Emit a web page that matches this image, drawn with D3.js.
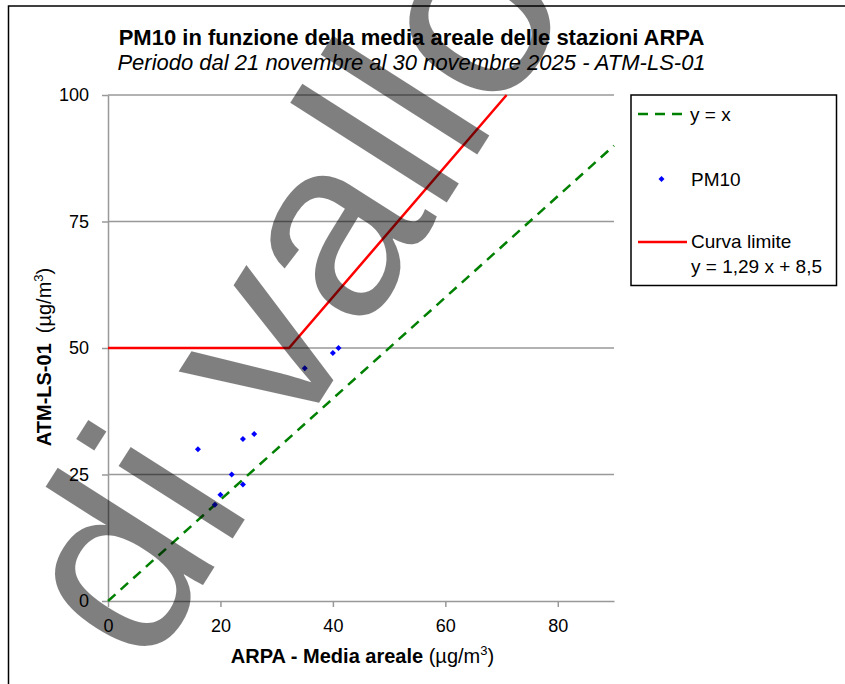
<!DOCTYPE html>
<html>
<head>
<meta charset="utf-8">
<title>PM10 in funzione della media areale</title>
<style>
body { margin: 0; background: #fff; }
text { font-family: 'Liberation Sans', Arial, sans-serif; }
</style>
</head>
<body>
<svg id="chart"></svg>
<script src="https://cdnjs.cloudflare.com/ajax/libs/d3/7.8.5/d3.min.js"></script>
<script>
// values
var xTicks = [0, 20, 40, 60, 80];
var yTicks = [0, 25, 50, 75, 100];
var pm10X = [16, 24, 26, 22, 24, 20, 19, 35, 40, 41];
var pm10Y = [30, 32, 33, 25, 23, 21, 19, 46, 49, 50];
var limitX = [0, 32.2, 70.9];
var limitY = [50, 50, 100];
var identityX = [0, 90];
var identityY = [0, 90];
var legendLabels = ['y = x', 'PM10', 'Curva limite'];
var limitFormula = 'y = 1,29 x + 8,5';

var width = 845, height = 684;
var svg = d3.select('#chart').attr('width', width).attr('height', height);

// outer frame (runs off the right and bottom edge)
svg.append('rect')
  .attr('x', 8.5).attr('y', 6)
  .attr('width', 900).attr('height', 800)
  .attr('fill', 'none').attr('stroke', '#000').attr('stroke-width', 1.5);

var x = d3.scaleLinear().domain([0, 90]).range([108, 614]);
var y = d3.scaleLinear().domain([0, 100]).range([601, 95]);

// gridlines
svg.append('g').selectAll('line')
  .data(yTicks.filter(function(d) { return d > 0; }))
  .enter().append('line')
  .attr('x1', x(0)).attr('x2', x(90))
  .attr('y1', function(d) { return y(d); })
  .attr('y2', function(d) { return y(d); })
  .attr('stroke', '#999').attr('stroke-width', 1.5);

var yAxis = svg.append('g')
  .attr('transform', 'translate(' + x(0) + ',0)')
  .call(d3.axisLeft(y).tickValues(yTicks).tickSize(6).tickSizeOuter(0).tickPadding(13));
var xAxis = svg.append('g')
  .attr('transform', 'translate(0,' + y(0) + ')')
  .call(d3.axisBottom(x).tickValues(xTicks).tickSize(6).tickSizeOuter(0).tickPadding(12));

[xAxis, yAxis].forEach(function(a) {
  a.selectAll('path, line').attr('stroke', '#999').attr('stroke-width', 1.5);
  a.selectAll('text').attr('font-size', 18).attr('fill', '#000')
    .style('font-family', "'Liberation Sans', Arial, sans-serif");
});

// y = x
var identity = identityX.map(function(d, i) { return [d, identityY[i]]; });
var line = d3.line().x(function(d) { return x(d[0]); }).y(function(d) { return y(d[1]); });
svg.append('path')
  .datum(identity)
  .attr('d', line)
  .attr('fill', 'none').attr('stroke', '#008000').attr('stroke-width', 2.5)
  .attr('stroke-dasharray', '10,7');

// limit curve
var limit = limitX.map(function(d, i) { return [d, limitY[i]]; });
svg.append('path')
  .datum(limit)
  .attr('d', line)
  .attr('fill', 'none').attr('stroke', '#ff0000').attr('stroke-width', 2.5)
  .attr('stroke-linejoin', 'miter');

// PM10 points
var diamond = d3.symbol().type(d3.symbolSquare).size(18);
svg.append('g').selectAll('path')
  .data(pm10X)
  .enter().append('path')
  .attr('d', diamond)
  .attr('transform', function(d, i) {
    return 'translate(' + x(d) + ',' + y(pm10Y[i]) + ') rotate(45)';
  })
  .attr('fill', '#0000ff');

// titles
svg.append('text')
  .attr('x', 411.5).attr('y', 45)
  .attr('text-anchor', 'middle')
  .attr('font-size', 22).attr('font-weight', 'bold')
  .text('PM10 in funzione della media areale delle stazioni ARPA');
svg.append('text')
  .attr('x', 411.5).attr('y', 70)
  .attr('text-anchor', 'middle')
  .attr('font-size', 22).attr('font-style', 'italic')
  .text('Periodo dal 21 novembre al 30 novembre 2025 - ATM-LS-01');

// axis titles
var xt = svg.append('text')
  .attr('x', 362.5).attr('y', 663)
  .attr('text-anchor', 'middle')
  .attr('font-size', 20);
xt.append('tspan').attr('font-weight', 'bold').text('ARPA - Media areale ');
xt.append('tspan').text('(\u00b5g/m');
xt.append('tspan').attr('font-size', 13).attr('dy', -8).text('3');
xt.append('tspan').attr('dy', 8).text(')');

var yt = svg.append('text')
  .attr('transform', 'translate(51,357) rotate(-90)')
  .attr('text-anchor', 'middle')
  .attr('font-size', 20);
yt.append('tspan').attr('font-weight', 'bold').text('ATM-LS-01');
yt.append('tspan').attr('dx', 10).text('(\u00b5g/m');
yt.append('tspan').attr('font-size', 13).attr('dy', -8).text('3');
yt.append('tspan').attr('dy', 8).text(')');

// legend
var legend = svg.append('g');
legend.append('rect')
  .attr('x', 631).attr('y', 95).attr('width', 205.5).attr('height', 190.5)
  .attr('fill', '#fff').attr('stroke', '#000').attr('stroke-width', 1.5);
legend.append('line')
  .attr('x1', 638).attr('x2', 687).attr('y1', 114).attr('y2', 114)
  .attr('stroke', '#008000').attr('stroke-width', 2.5).attr('stroke-dasharray', '10,7');
legend.append('path')
  .attr('d', diamond)
  .attr('transform', 'translate(661.5,179) rotate(45)')
  .attr('fill', '#0000ff');
legend.append('line')
  .attr('x1', 638).attr('x2', 687).attr('y1', 242).attr('y2', 242)
  .attr('stroke', '#ff0000').attr('stroke-width', 2.5);
var legendY = [121, 186, 248];
var legendX = [690, 691, 691];
legendLabels.forEach(function(t, i) {
  legend.append('text')
    .attr('x', legendX[i]).attr('y', legendY[i])
    .attr('font-size', 19).text(t);
});
legend.append('text')
  .attr('x', 691).attr('y', 273)
  .attr('font-size', 19).text(limitFormula);

// watermark
svg.append('text')
  .attr('transform', 'translate(147,673) rotate(-57.5)')
  .attr('font-size', 256)
  .attr('fill', '#000').attr('fill-opacity', 0.5)
  .text('di vallo');
</script>
</body>
</html>
